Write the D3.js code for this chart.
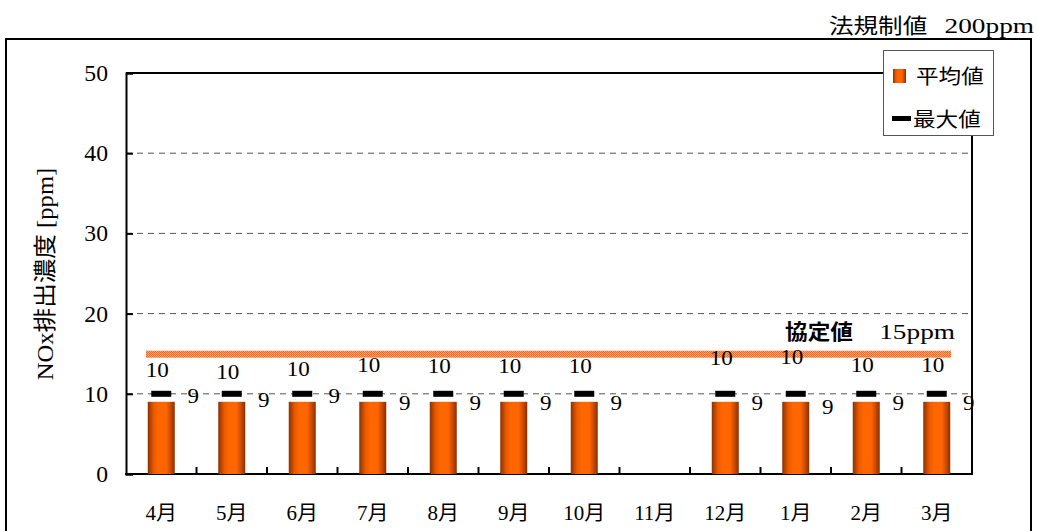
<!DOCTYPE html>
<html>
<head>
<meta charset="utf-8">
<script src="https://cdn.jsdelivr.net/npm/d3@7"></script>
<style>
  body { margin: 0; background: #fff; }
  text { font-family: "Liberation Serif", "Noto Sans CJK JP", serif; fill: #000; }
</style>
</head>
<body>
<div id="chart"></div>
<script>

// data
const months = ['4月', '5月', '6月', '7月', '8月', '9月', '10月', '11月', '12月', '1月', '2月', '3月'];
const averageValues = [9, 9, 9, 9, 9, 9, 9, null, 9, 9, 9, 9];
const maximumValues = [10, 10, 10, 10, 10, 10, 10, null, 10, 10, 10, 10];
const yTicks = [0, 10, 20, 30, 40, 50];
const agreementValue = 15;
const legalText = '法規制値';
const legalUnit = '200ppm';
const agreementText = '協定値';
const agreementUnit = '15ppm';

// label nudges so they look like the original (excel moved them around)
const maxLabelDy = [-17, -15, -18, -22, -21, -21, -21, 0, -29, -30, -22, -22];
const avgLabelDy = [1, 5, 1, 8, 8, 8, 8, 0, 8, 12, 8, 8];

function createSVG(containerId, width, height) {
    try {
        let svg = d3.select(containerId)
            .append('svg')
            .attr('width', width)
            .attr('height', height);
        return svg;
    } catch (error) {
        console.log('createSVG error: ' + error);
        return null;
    }
}

// the original picture is a bit wider than tall, so text gets a horizontal stretch
function addText(parent, x, y, str, size, sx, anchor) {
    return parent.append('text')
        .attr('transform', `translate(${x},${y}) scale(${sx},1)`)
        .attr('text-anchor', anchor || 'start')
        .attr('font-size', size)
        .text(str);
}

const W = 1037, H = 531;
const margin = { left: 126, right: 65, top: 73, bottom: 57 };
const svg = createSVG('#chart', W, H);

// bar gradient
const defs = svg.append('defs');
const grad = defs.append('linearGradient').attr('id', 'barGrad')
    .attr('x1', '0%').attr('x2', '100%').attr('y1', '0%').attr('y2', '0%');
[['0%', '#8c3000'], ['22%', '#e85a00'], ['40%', '#ff6600'], ['68%', '#ff6600'], ['85%', '#c84a00'], ['100%', '#883000']]
    .forEach(s => grad.append('stop').attr('offset', s[0]).attr('stop-color', s[1]));

const pat = defs.append('pattern').attr('id', 'dotPat')
    .attr('width', 2).attr('height', 2).attr('patternUnits', 'userSpaceOnUse');
pat.append('rect').attr('width', 2).attr('height', 2).attr('fill', '#ffa070');
pat.append('rect').attr('width', 1).attr('height', 1).attr('fill', '#ff6a20');
pat.append('rect').attr('x', 1).attr('y', 1).attr('width', 1).attr('height', 1).attr('fill', '#ff6a20');

// outer frame
svg.append('path')
    .attr('d', `M6,${H + 5} L6,39 L1031,39 L1031,${H + 5}`)
    .attr('fill', 'none').attr('stroke', '#000').attr('stroke-width', 2);

addText(svg, 829, 33, legalText, 21, 1.17, 'start');
addText(svg, 1034, 33, legalUnit, 21, 1.3, 'end');

const x = d3.scaleBand().domain(months).range([margin.left, W - margin.right]);
const y = d3.scaleLinear().domain([0, 50]).range([H - margin.bottom, margin.top]);

const x0 = margin.left, x1 = W - margin.right;

// grid
svg.append('g').selectAll('line')
    .data(yTicks.filter(t => t > 0 && t < 50)).enter()
    .append('line')
    .attr('x1', x0).attr('x2', x1)
    .attr('y1', d => y(d)).attr('y2', d => y(d))
    .attr('stroke', '#555').attr('stroke-width', 1)
    .attr('stroke-dasharray', '6,5');

// plot border top/right
svg.append('path')
    .attr('d', `M${x0},${y(50)} L${x1},${y(50)} L${x1},${y(0)}`)
    .attr('fill', 'none').attr('stroke', '#000').attr('stroke-width', 2);

// axes
const yAxis = svg.append('g')
    .attr('transform', `translate(${x0},0)`)
    .call(d3.axisRight(y).tickValues(yTicks).tickSize(7).tickFormat(''));
yAxis.select('.domain').attr('stroke-width', 2);
yAxis.selectAll('.tick line').attr('stroke-width', 2);

const yLab = svg.append('g');
yTicks.forEach(t => addText(yLab, 108, y(t) + 8, t, 23, 1.03, 'end'));

const xTickPos = d3.range(1, months.length).map(i => x0 + i * x.step());
svg.append('g').selectAll('line')
    .data(xTickPos).enter()
    .append('line')
    .attr('x1', d => d).attr('x2', d => d)
    .attr('y1', y(0)).attr('y2', y(0) - 7)
    .attr('stroke', '#000').attr('stroke-width', 2);
svg.append('line')
    .attr('x1', x0 - 1).attr('x2', x1 + 1)
    .attr('y1', y(0)).attr('y2', y(0))
    .attr('stroke', '#000').attr('stroke-width', 2);

const xLab = svg.append('g');
months.forEach(m => addText(xLab, x(m) + x.bandwidth() / 2, 520, m, 20, 1.05, 'middle'));

svg.append('text')
    .attr('transform', `translate(53,274) rotate(-90) scale(1.07,1)`)
    .attr('text-anchor', 'middle')
    .attr('font-size', 23)
    .text('NOx排出濃度 [ppm]');

// bars
const barW = 27;
const rows = months.map((m, i) => ({ m, i, avg: averageValues[i], max: maximumValues[i] }))
    .filter(d => d.avg !== null);

svg.append('g').selectAll('rect')
    .data(rows).enter()
    .append('rect')
    .attr('x', d => x(d.m) + x.bandwidth() / 2 - barW / 2)
    .attr('y', d => y(d.avg))
    .attr('width', barW)
    .attr('height', d => y(0) - y(d.avg))
    .attr('fill', 'url(#barGrad)');

// agreement line
svg.append('rect')
    .attr('x', 146).attr('width', 805)
    .attr('y', y(agreementValue) - 3).attr('height', 7)
    .attr('fill', 'url(#dotPat)');

addText(svg, 785, 339, agreementText, 21, 1.08, 'start')
    .attr('font-family', 'Noto Sans CJK JP').attr('font-weight', 'bold');
addText(svg, 955, 339, agreementUnit, 21, 1.3, 'end');

// max markers
svg.append('g').selectAll('rect')
    .data(rows).enter()
    .append('rect')
    .attr('x', d => x(d.m) + x.bandwidth() / 2 - 10)
    .attr('y', d => y(d.max) - 3)
    .attr('width', 20).attr('height', 6)
    .attr('fill', '#000');

// value labels
const maxLab = svg.append('g');
rows.forEach(d => addText(maxLab, x(d.m) + x.bandwidth() / 2 - 4, y(d.max) + maxLabelDy[d.i], d.max, 21, 1.1, 'middle'));
const avgLab = svg.append('g');
rows.forEach(d => addText(avgLab, x(d.m) + x.bandwidth() / 2 + 32, y(d.avg) + avgLabelDy[d.i], d.avg, 21, 1.1, 'middle'));

// legend
const lg = svg.append('g');
lg.append('rect')
    .attr('x', 883.5).attr('y', 50.5).attr('width', 110).attr('height', 85)
    .attr('fill', '#fff').attr('stroke', '#555').attr('stroke-width', 1);
lg.append('rect')
    .attr('x', 893).attr('y', 69).attr('width', 13).attr('height', 14)
    .attr('fill', 'url(#barGrad)');
addText(lg, 916, 84, '平均値', 20, 1.13, 'start');
lg.append('rect')
    .attr('x', 892).attr('y', 116).attr('width', 19).attr('height', 5)
    .attr('fill', '#000');
addText(lg, 913, 127, '最大値', 20, 1.13, 'start');

</script>
</body>
</html>
